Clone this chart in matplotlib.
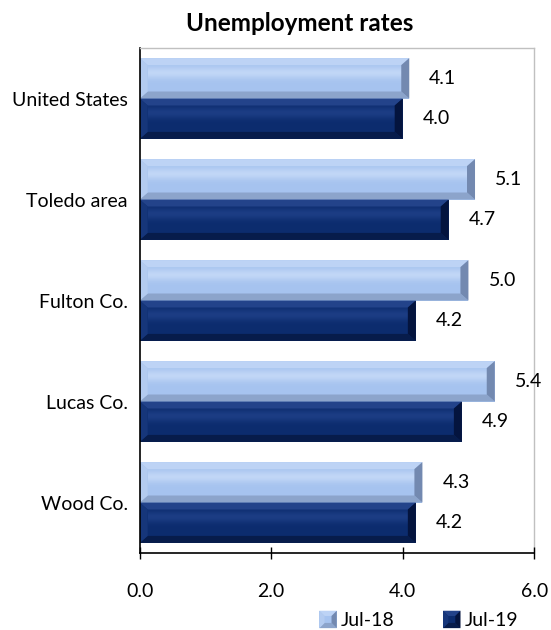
import numpy as np
import matplotlib
matplotlib.use("Agg")
import matplotlib.pyplot as plt
from matplotlib.patches import Polygon, Rectangle
from matplotlib.legend_handler import HandlerPatch
from matplotlib.colors import to_rgb

# data
areas = ["United States", "Toledo area", "Fulton Co.", "Lucas Co.", "Wood Co."]
jul18 = [4.1, 5.1, 5.0, 5.4, 4.3]
jul19 = [4.0, 4.7, 4.2, 4.9, 4.2]
series = ["Jul-18", "Jul-19"]
xticks = [0, 2, 4, 6]

plt.rcParams["font.family"] = ["Lato", "DejaVu Sans"]
FS = 14

LIGHT = dict(face="#A6C3EF", hi="#C6DAF8", top="#BDD3F5", left="#B3CBF0",
             bot="#8CA4CB", right="#7389B0")
DARK = dict(face="#0C2C6E", hi="#1F4088", top="#23438A", left="#16367A",
            bot="#071C4B", right="#04143E")


def mix(c1, c2, w):
    a, b = np.array(to_rgb(c1)), np.array(to_rgb(c2))
    return a * (1 - w) + b * w


def bevel_polys(x0, y0, w, h, bx, by, pal):
    x1, y1 = x0 + w, y0 + h
    return [
        ([(x0, y1), (x1, y1), (x1 - bx, y1 - by), (x0 + bx, y1 - by)], pal["top"]),
        ([(x0, y0), (x1, y0), (x1 - bx, y0 + by), (x0 + bx, y0 + by)], pal["bot"]),
        ([(x0, y0), (x0, y1), (x0 + bx, y1 - by), (x0 + bx, y0 + by)], pal["left"]),
        ([(x1, y0), (x1, y1), (x1 - bx, y1 - by), (x1 - bx, y0 + by)], pal["right"]),
    ]


class BevelHandler(HandlerPatch):
    def __init__(self, pal):
        super().__init__()
        self.pal = pal

    def create_artists(self, legend, orig_handle, xdescent, ydescent, width, height,
                       fontsize, trans):
        s = height
        x0, y0 = -xdescent + width - s, -ydescent
        b = s * 0.3
        arts = [Rectangle((x0, y0), s, s, facecolor=self.pal["face"], edgecolor="none",
                          transform=trans)]
        for pts, c in bevel_polys(x0, y0, s, s, b, b, self.pal):
            arts.append(Polygon(pts, closed=True, facecolor=c, edgecolor="none", transform=trans))
        return arts


fig = plt.figure(figsize=(5.51, 6.30), dpi=100)
ax = fig.add_axes([0.2535, 0.1222, 0.716, 0.8016])

pos = np.arange(len(areas))[::-1]
h = 0.4
b18 = ax.barh(pos + h / 2, jul18, height=h, color=LIGHT["face"], label=series[0])
b19 = ax.barh(pos - h / 2, jul19, height=h, color=DARK["face"], label=series[1])

# bevel / gradient decoration on each bar (about 8 px bevel)
px_x = 6.0 / (0.716 * 551)
px_y = 5.0 / (0.8016 * 630)
bx, by = 8 * px_x, 7 * px_y
for bars, pal in ((b18, LIGHT), (b19, DARK)):
    for p in bars.patches:
        x0, y0, w, hh = p.get_x(), p.get_y(), p.get_width(), p.get_height()
        t = np.linspace(0, 1, 40)
        wgt = 0.85 * np.exp(-((t - 0.72) / 0.22) ** 2)
        img = np.array([mix(pal["face"], pal["hi"], v) for v in wgt])[:, None, :]
        ax.imshow(img, extent=(x0 + bx, x0 + w - bx, y0 + by, y0 + hh - by), origin="lower",
                  aspect="auto", interpolation="bilinear", zorder=2.1)
        for pts, c in bevel_polys(x0, y0, w, hh, bx, by, pal):
            ax.add_patch(Polygon(pts, closed=True, facecolor=c, edgecolor="none", zorder=2.2))

for bars, vals in ((b18, jul18), (b19, jul19)):
    for p, v in zip(bars.patches, vals):
        ax.annotate(f"{v:.1f}", (p.get_width(), p.get_y() + p.get_height() / 2),
                    xytext=(14.4, 0), textcoords="offset points", ha="left", va="center",
                    fontsize=FS, color="#000000")

ax.set_xlim(0, 6)
ax.set_ylim(-0.5, len(areas) - 0.5)
ax.set_xticks(xticks)
ax.set_xticklabels([f"{v:.1f}" for v in xticks], fontsize=FS)
ax.set_yticks(pos)
ax.set_yticklabels(areas, fontsize=FS)
ax.tick_params(axis="x", direction="inout", length=8.6, width=1, color="black", pad=17)
ax.tick_params(axis="y", length=0, pad=8.6)
for sp in ("left", "bottom"):
    ax.spines[sp].set_color("black")
    ax.spines[sp].set_linewidth(1.2)
for sp in ("top", "right"):
    ax.spines[sp].set_color("#C0C0C0")
    ax.spines[sp].set_linewidth(1.0)
ax.set_axisbelow(False)

fig.text(0.543, 0.963, "Unemployment rates", ha="center", va="center",
         fontsize=17.5, fontweight="bold")

leg = ax.legend(handles=[b18, b19], labels=series, ncol=2, frameon=False, fontsize=FS,
                loc="center", bbox_to_anchor=(0.758, 0.016), bbox_transform=fig.transFigure,
                handlelength=1.0, handleheight=1.0, handletextpad=0.2, columnspacing=2.4,
                borderpad=0, handler_map={b18: BevelHandler(LIGHT), b19: BevelHandler(DARK)})

fig.savefig("out.png", dpi=100)
